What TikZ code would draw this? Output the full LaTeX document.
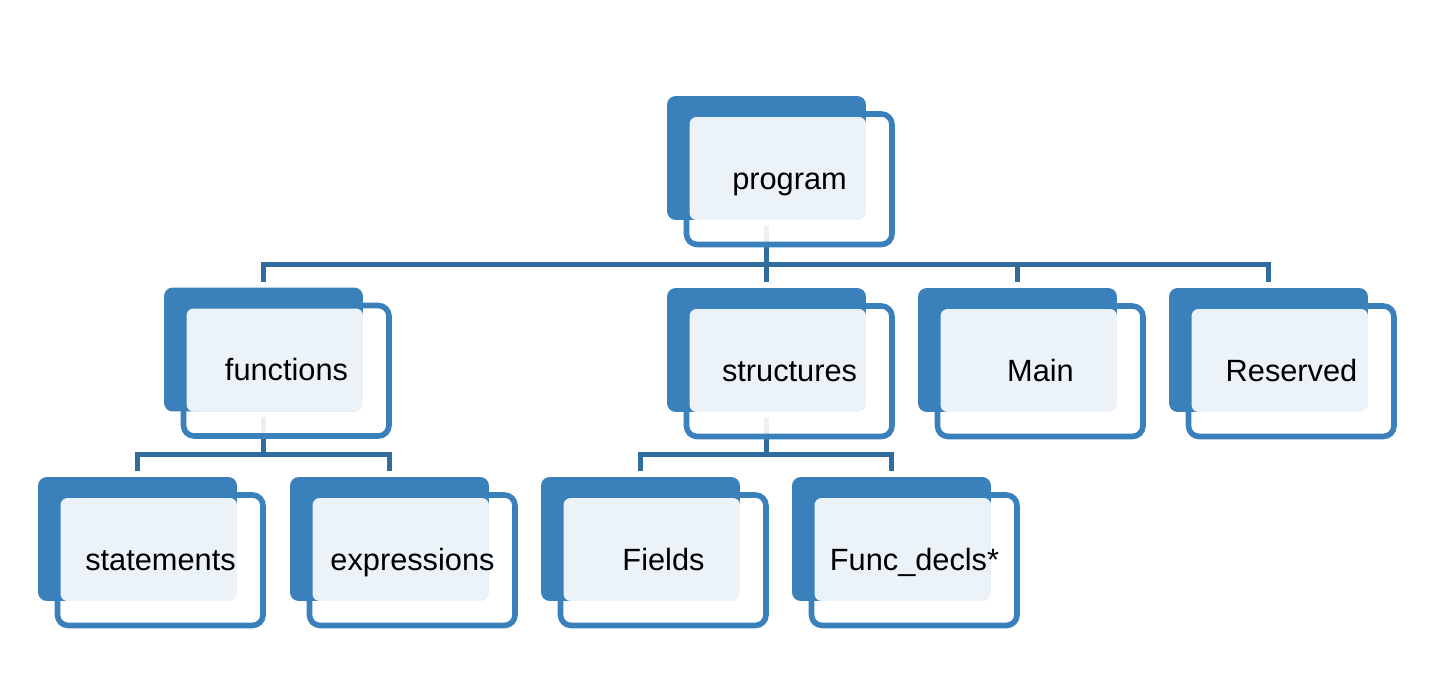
\documentclass[tikz,border=0pt]{standalone}
\usepackage{fontspec}
\setmainfont{Liberation Sans}
\pgfdeclarelayer{bg}
\pgfsetlayers{bg,main}
\definecolor{sablue}{HTML}{3A80BA}
\definecolor{saconn}{HTML}{306C9E}
\tikzset{
  backbox/.style={anchor=north west, fill=sablue, minimum width=3.98cm, minimum height=2.48cm, inner sep=0pt, outer sep=0pt, rounded corners=5pt},
  frontbox/.style={anchor=north west, draw=sablue, line width=3.2pt, fill=white, fill opacity=0.9, minimum width=4.11cm, minimum height=2.61cm, inner sep=0pt, outer sep=0pt, rounded corners=6pt},
  lightfill/.style={fill=white, fill opacity=0.9, rounded corners=4pt},
  lbl/.style={font=\fontsize{17.5}{20}\selectfont, text=black, inner sep=0pt, anchor=base},
  conn/.style={draw=saconn, line width=3.1pt}
}
\newcommand{\hnode}[4]{%
  \node[frontbox] (#1-f) at (#2+19.5,#3+18) {};
  \node[backbox] (#1) at (#2,#3) {};
  \fill[lightfill] (#2+22.5,#3+21) rectangle (#2+199,#3+124);
  \node[lbl] (#1-t) at (#2+122.5,#3+93) {#4};
}
\begin{document}
\begin{tikzpicture}[x=0.02cm,y=-0.02cm]
\useasboundingbox (0,0) rectangle (1444,673);
\hnode{program}{667}{96}{program}
\hnode{functions}{164}{287.5}{functions}
\hnode{structures}{667}{288}{structures}
\hnode{main}{918}{288}{Main}
\hnode{reserved}{1169}{288}{Reserved}
\hnode{statements}{38}{477}{statements}
\hnode{expressions}{290}{477}{expressions}
\hnode{fields}{541}{477}{Fields}
\hnode{funcdecls}{792}{477}{Func\_decls*}
\coordinate (bus1) at (0,264.5);
\coordinate (bus2) at (0,454.5);
\begin{pgfonlayer}{bg}
\foreach \c in {functions,structures,main,reserved}{
  \draw[conn] ([yshift=-0.12cm]program.south) -- (program.south |- bus1) -| ([yshift=0.12cm]\c.north);
}
\foreach \c in {statements,expressions}{
  \draw[conn] ([yshift=-0.12cm]functions.south) -- (functions.south |- bus2) -| ([yshift=0.12cm]\c.north);
}
\foreach \c in {fields,funcdecls}{
  \draw[conn] ([yshift=-0.12cm]structures.south) -- (structures.south |- bus2) -| ([yshift=0.12cm]\c.north);
}
\end{pgfonlayer}
\end{tikzpicture}
\end{document}
